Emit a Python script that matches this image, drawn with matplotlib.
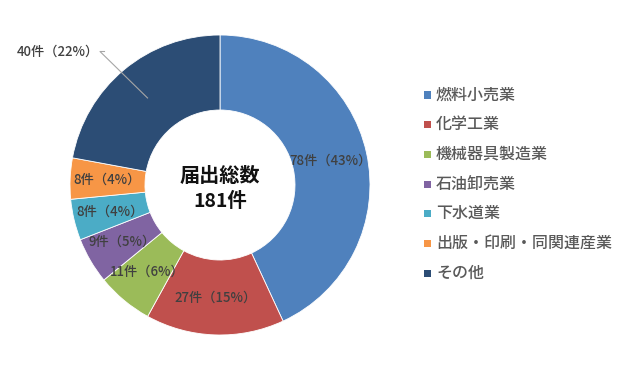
import numpy as np
import matplotlib
matplotlib.use('Agg')
import matplotlib.pyplot as plt
from matplotlib.patches import Rectangle

plt.rcParams['font.family'] = ['Noto Sans CJK JP', 'DejaVu Sans']

# data
categories = ['燃料小売業', '化学工業', '機械器具製造業', '石油卸売業',
              '下水道業', '出版・印刷・同関連産業', 'その他']
counts = [78, 27, 11, 9, 8, 8, 40]
colors = ['#4F81BD', '#C0504D', '#9BBB59', '#8064A2',
          '#4BACC6', '#F79646', '#2C4D75']

W, H = 637, 370
fig = plt.figure(figsize=(W / 100, H / 100), dpi=100)

# pie axes: center (220,185) px, radius 150 px
cx, cy, R = 220, 185, 150
ax = fig.add_axes([(cx - R) / W, (H - cy - R) / H, 2 * R / W, 2 * R / H])

wedges, _ = ax.pie(counts, colors=colors, startangle=90, counterclock=False,
                   radius=1.0, wedgeprops=dict(width=0.5, edgecolor='white', linewidth=0.6))
ax.set_xlim(-1, 1)
ax.set_ylim(-1, 1)
ax.set_aspect('equal')

total = sum(counts)
for i, (w, n) in enumerate(zip(wedges, counts)):
    mid = np.deg2rad((w.theta1 + w.theta2) / 2)
    r = 0.755
    x, y = r * np.cos(mid), r * np.sin(mid)
    txt = f'{n}件（{round(100 * n / total)}%）'
    kw = dict(ha='center', va='center', fontsize=9.5, color='#404040',
              fontweight='medium')
    if i == len(counts) - 1:
        # outside label with leader line
        lx, ly = -1.08, 0.89
        ax.plot([x, -0.8, -0.77], [y, ly, ly], color='#A6A6A6', lw=0.8, clip_on=False)
        ax.text(lx, ly, txt, clip_on=False, **kw)
    else:
        ax.text(x, y, txt, **kw)

ax.text(0, 0.06, '届出総数', ha='center', va='center', fontsize=14.5,
        fontweight='bold', color='#111111')
ax.text(0, -0.11, '181件', ha='center', va='center', fontsize=14,
        fontweight='bold', color='#111111')

# legend
y0, step = 95, 29.7
sq = 7
for k, (lab, c) in enumerate(zip(categories, colors)):
    yy = y0 + k * step
    fig.add_artist(Rectangle(((427 - sq / 2) / W, (H - yy - sq / 2) / H), sq / W, sq / H,
                             transform=fig.transFigure, facecolor=c, edgecolor='none'))
    fig.text(436 / W, (H - yy) / H, lab, ha='left', va='center', fontsize=11.5,
             color='#595959', fontweight='medium')

fig.savefig('out.png', dpi=100)
